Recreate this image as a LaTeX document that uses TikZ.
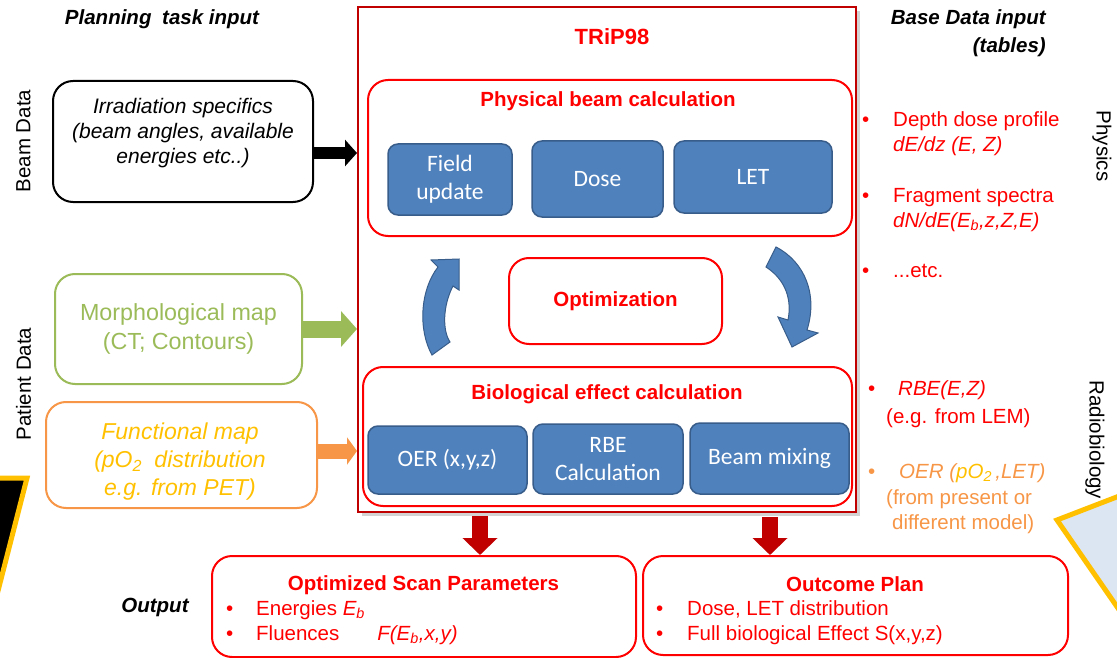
\documentclass[tikz,border=0pt]{standalone}
\usepackage{fontspec}
\setmainfont{Liberation Sans}
\newfontfamily\calibri{Carlito}
\usepackage{xcolor}
\usepackage{tikz}
\usetikzlibrary{shapes,arrows,positioning,calc,shadows,arrows.meta}

\definecolor{tripred}{HTML}{FF0000}
\definecolor{darkred}{HTML}{C00000}
\definecolor{boxblue}{HTML}{4F81BD}
\definecolor{blueline}{HTML}{385D8A}
\definecolor{morphgreen}{HTML}{9BBB59}
\definecolor{funcorange}{HTML}{F79646}
\definecolor{gold}{HTML}{FFC000}
\definecolor{paleblue}{HTML}{DCE6F2}

\begin{document}
\begin{tikzpicture}[x=1pt,y=-1pt,
    every node/.style={inner sep=0pt, font=\fontsize{20.5}{25}\selectfont},
    redbox/.style={draw=tripred, line width=2pt, rounded corners=20pt},
    calcbox/.style={draw=blueline, fill=boxblue, line width=1.5pt, rounded corners=10pt,
        text=white, align=center, font=\calibri\fontsize{23.5}{28}\selectfont},
    inputbox/.style={line width=2pt, rounded corners=20pt},
    head/.style={text=tripred, font=\bfseries\fontsize{20.5}{25}\selectfont},
    redline/.style={text=tripred, anchor=base west},
    sidelabel/.style={font=\fontsize{20.5}{25}\selectfont},
    blockarrow/.style={line width=#1}
]
    \useasboundingbox (0,0) rectangle (1117,658);

    \filldraw[black, draw=gold, line width=5pt, line join=miter] (-20,478) -- (27,478) -- (-20,661) -- cycle;
    \filldraw[fill=paleblue, draw=gold, line width=5pt, line join=miter] (1140,488) -- (1057,520) -- (1140,640) -- cycle;

    \node[font=\bfseries\itshape\fontsize{20.5}{25}\selectfont] (plan) at (162,19) {Planning\hspace{5pt} task input};
    \node[font=\bfseries\itshape\fontsize{20.5}{28}\selectfont, align=right, anchor=east] (base) at (1046,33) {Base Data input\\(tables)};
    \node[font=\bfseries\itshape\fontsize{20.5}{25}\selectfont, anchor=base] (output) at (155,612) {Output};

    \node[sidelabel, rotate=90] (beamdata) at (23.5,141) {Beam Data};
    \node[sidelabel, rotate=90] (patient) at (23.5,384) {Patient Data};
    \node[sidelabel, rotate=-90] (physics) at (1102,146) {Physics};
    \node[sidelabel, rotate=-90] (radio) at (1095,440) {Radiobiology};

    \node[draw=darkred, line width=2pt, fill=white, minimum width=498pt, minimum height=505pt,
        drop shadow={shadow xshift=4pt, shadow yshift=-4pt, opacity=0.35}] (trip) at (607,259.5) {};
    \node[text=tripred, font=\bfseries\fontsize{22}{26}\selectfont] (title) at (612,37) {TRiP98};

    \node[redbox, minimum width=484pt, minimum height=156pt] (phys) at (610,158) {};
    \node[head] (physlabel) at (608,101) {Physical beam calculation};
    \node[calcbox, minimum width=124pt, minimum height=71pt] (field) at (450,179.5) {Field\\update};
    \node[calcbox, minimum width=131pt, minimum height=76pt] (dose) at (597.5,179) {Dose};
    \node[calcbox, minimum width=158pt, minimum height=72pt] (let) at (753,177) {LET};

    \node[redbox, head, minimum width=213pt, minimum height=86pt] (optim) at (615.5,301) {Optimization};

    \node[redbox, minimum width=489pt, minimum height=139pt] (bio) at (607.5,436.5) {};
    \node[head] (biolabel) at (607,394) {Biological effect calculation};
    \node[calcbox, minimum width=159pt, minimum height=68pt] (oer) at (447.5,460) {OER (x,y,z)};
    \node[calcbox, minimum width=150pt, minimum height=70pt] (rbe) at (608,459) {RBE\\Calculation};
    \node[calcbox, minimum width=159pt, minimum height=71pt] (mix) at (769.5,458.5) {Beam mixing};

    \filldraw[fill=boxblue, draw=blueline, line width=1pt] (431,260) -- (459,259) -- (459,290) -- (453,286)
        .. controls (443,305) and (442,330) .. (450,342) -- (432,355)
        .. controls (418,330) and (420,290) .. (438,267) -- cycle;
    \filldraw[fill=boxblue, draw=blueline, line width=1pt] (776,247)
        .. controls (805,262) and (818,295) .. (807,330) -- (818,333) -- (792,347) -- (778,317) -- (788,320)
        .. controls (792,300) and (786,280) .. (766,267) -- cycle;

    \node[inputbox, draw=black, minimum width=260pt, minimum height=121pt] (irr) at (183,141.5) {};
    \node[font=\itshape\fontsize{21}{25}\selectfont, align=center] (irrtext) at (183,133) {Irradiation specifics\\(beam angles, available\\energies etc..)};
    \node[inputbox, draw=morphgreen, minimum width=247pt, minimum height=110pt, text=morphgreen,
        align=center, font=\fontsize{23.3}{29}\selectfont] (morph) at (178.5,329) {Morphological map\\(CT; Contours)};
    \node[inputbox, draw=funcorange, minimum width=271pt, minimum height=106pt] (func) at (181.5,455) {};
    \node[text=gold, font=\itshape\fontsize{23}{28}\selectfont, align=center] (functext) at (180,462) {Functional map\\(pO\textsubscript{2}\hspace{6pt} distribution\\e.g. from PET)};

    \coordinate (beamin) at (335,153);
    \coordinate (funcin) at (335,451);
    \draw[blockarrow=12pt, -{Triangle[length=12pt,width=26pt]}] (irr.east |- beamin) -- (trip.west |- beamin);
    \draw[blockarrow=17pt, morphgreen, -{Triangle[length=16pt,width=35pt]}] (morph.east) -- (morph.east -| trip.west);
    \draw[blockarrow=15pt, funcorange, -{Triangle[length=10pt,width=27pt]}] (func.east |- funcin) -- (trip.west |- funcin);

    \node[redline] (dot1) at (862,127) {•};
    \node[redline] (depth) at (893,127) {Depth dose profile};
    \node[redline, font=\itshape\fontsize{20.5}{25}\selectfont] (dedz) at (893,152) {dE/dz (E, Z)};
    \node[redline] (dot2) at (862,202) {•};
    \node[redline] (frag) at (893,202) {Fragment spectra};
    \node[redline, font=\itshape\fontsize{20.5}{25}\selectfont] (dnde) at (893,227) {dN/dE(E\textsubscript{b},z,Z,E)};
    \node[redline] (dot3) at (862,277) {•};
    \node[redline] (etc) at (893,277) {...etc.};

    \node[redline] (dot4) at (868,395) {•};
    \node[redline, font=\itshape\fontsize{20.5}{25}\selectfont] (rbefun) at (898,395) {RBE(E,Z)};
    \node[redline] (lem) at (886,423) {(e.g. from LEM)};
    \node[redline, text=funcorange] (dot5) at (868,478) {•};
    \node[redline, text=funcorange, font=\itshape\fontsize{20.5}{25}\selectfont] (oerfun) at (899,478) {OER (\textcolor{gold}{pO\textsubscript{2}}\,,LET)};
    \node[redline, text=funcorange] (present) at (886,504) {(from present or};
    \node[redline, text=funcorange] (model) at (892,529) {different model)};

    \node[redbox, minimum width=424pt, minimum height=101pt] (scan) at (424,606.5) {};
    \node[head, anchor=base] (scantitle) at (423.5,590) {Optimized Scan Parameters};
    \node[redline] (dot6) at (226,615) {•};
    \node[redline] (energies) at (256,615) {Energies \textit{E\textsubscript{b}}};
    \node[redline] (dot7) at (226,640) {•};
    \node[redline] (fluences) at (256,640) {Fluences\hspace{38pt}\textit{F(E\textsubscript{b},x,y)}};

    \node[redbox, minimum width=425pt, minimum height=99pt] (outcome) at (855.5,605.5) {};
    \node[head, anchor=base] (outtitle) at (855,591) {Outcome Plan};
    \node[redline] (dot8) at (656,615) {•};
    \node[redline] (letdist) at (687,615) {Dose, LET distribution};
    \node[redline] (dot9) at (656,640) {•};
    \node[redline] (fullbio) at (687,640) {Full biological Effect S(x,y,z)};

    \coordinate (outl) at (480,516);
    \coordinate (outr) at (770,517);
    \draw[blockarrow=16pt, darkred, -{Triangle[length=17pt,width=34pt]}] (outl) -- (outl |- scan.north);
    \draw[blockarrow=16pt, darkred, -{Triangle[length=17pt,width=34pt]}] (outr) -- (outr |- outcome.north);
\end{tikzpicture}
\end{document}
